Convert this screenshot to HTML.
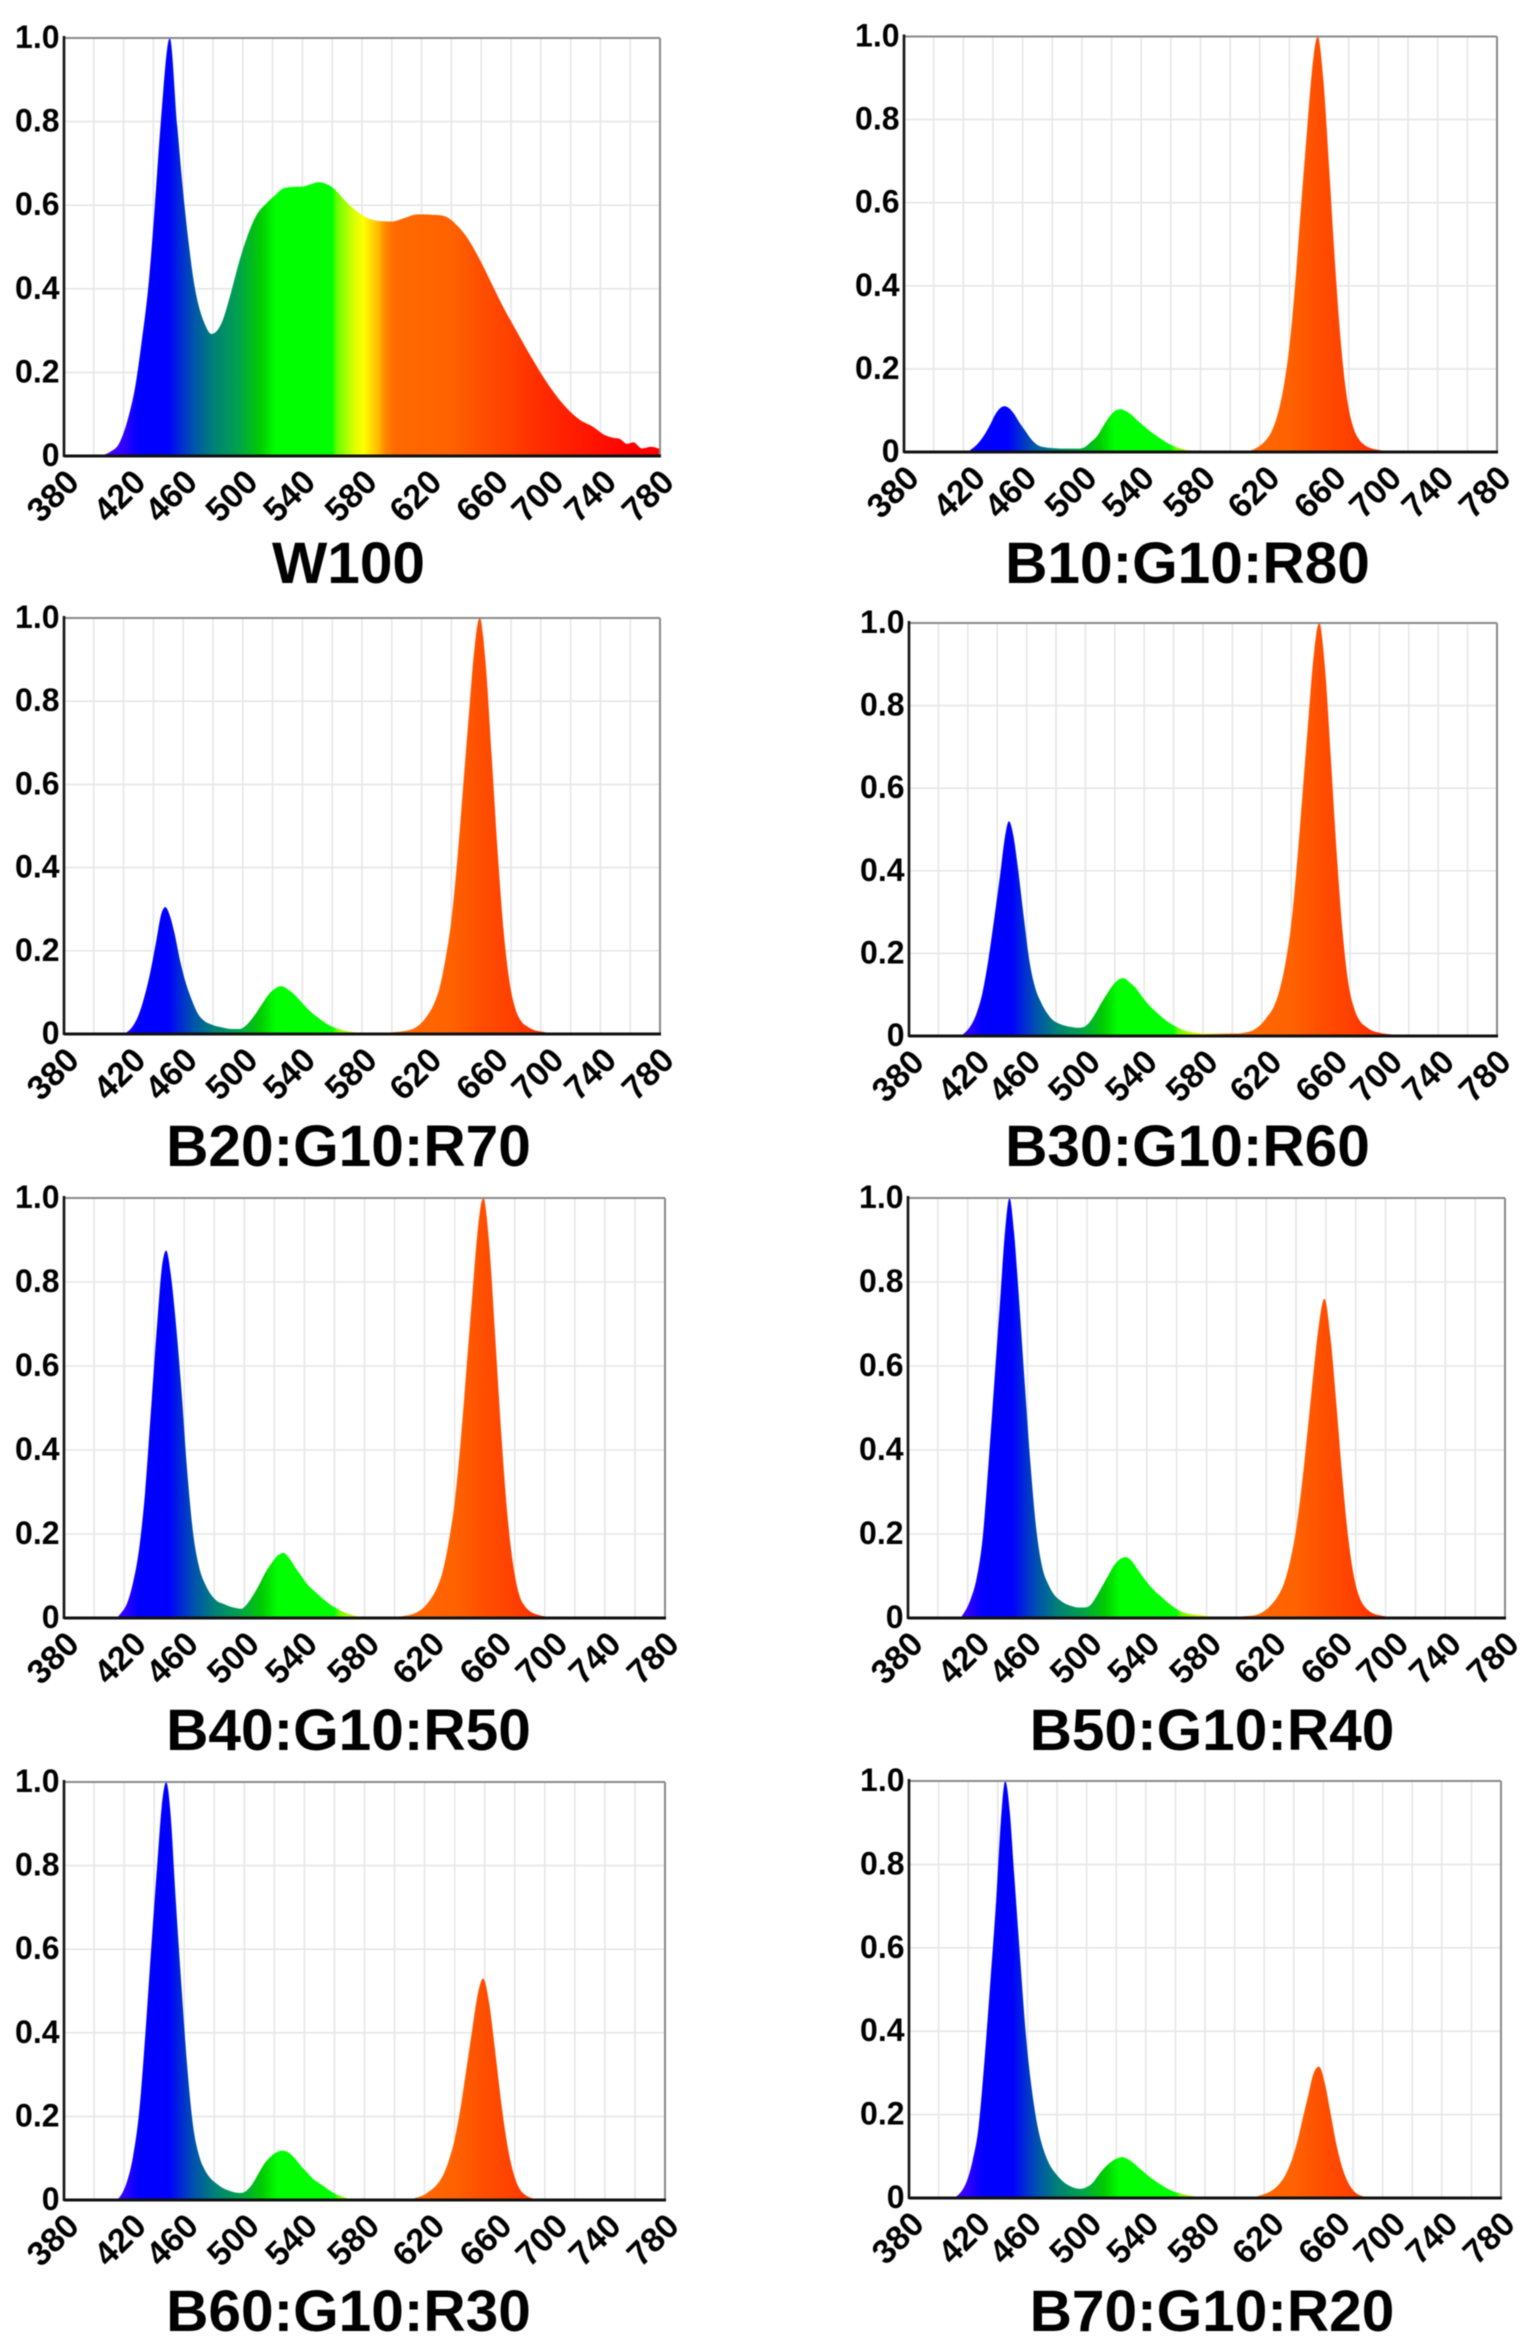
<!DOCTYPE html>
<html lang="en">
<head>
<meta charset="utf-8">
<title>LED spectra panels</title>
<style>
  html, body { margin: 0; padding: 0; background: #fff; }
  svg { display: block; filter: blur(0.55px); }
  text { font-family: "Liberation Sans", sans-serif; font-weight: bold; fill: #000; }
</style>
</head>
<body>
<svg id="figure" xmlns="http://www.w3.org/2000/svg" width="1532" height="2352" viewBox="0 0 1532 2352"></svg>
<script>
// ---------- shared axis data ----------
const xTicks = [380, 420, 460, 500, 540, 580, 620, 660, 700, 740, 780];
const xGrid = [400, 420, 440, 460, 480, 500, 520, 540, 560, 580, 600, 620, 640, 660, 680, 700, 720, 740, 760];
const yTicks = [0, 0.2, 0.4, 0.6, 0.8, 1.0];
const yTickLabels = ['0', '0.2', '0.4', '0.6', '0.8', '1.0'];

// ---------- wavelength samples (nm) ----------
const wavelengthsWhite = [380,400,403,411,417,423,428,432,437,441,445,451,456,460,464,467,470,474,479,486,492,498,503,509,516,522,527,531,541,551,560,570,579,588,600,609,617,627,636,644,651,659,666,675,684,693,705,717,726,735,743,748,753,758,762,768,774,780];
const wavelengthsLED = [380,410,414,418,422,426,430,434,438,442,445,448,451,454,458,462,466,470,474,478,482,486,490,494,498,502,506,510,514,518,522,526,530,534,538,542,546,550,554,558,562,566,570,576,584,592,600,608,614,620,624,628,632,636,640,644,648,652,655,659,663,667,671,675,679,683,687,691,695,700,708,720,780];
const wavelengthsB70 = [380,407,411,415,419,423,427,431,435,439,442,445,448,451,455,459,463,467,471,475,480,484,488,492,496,500,504,508,512,516,520,524,528,532,536,540,544,548,552,556,560,564,568,574,582,590,598,606,612,618,622,626,630,634,638,642,646,650,653,657,661,665,669,673,677,681,685,689,693,698,706,720,780];

// ---------- series values (relative intensity) ----------
const seriesW100 = [0,0,0.001,0.01,0.03,0.09,0.17,0.27,0.42,0.6,0.8,1,0.79,0.63,0.5,0.42,0.365,0.32,0.292,0.32,0.39,0.47,0.525,0.575,0.605,0.625,0.64,0.643,0.645,0.655,0.643,0.606,0.579,0.564,0.561,0.57,0.578,0.577,0.573,0.551,0.52,0.47,0.42,0.355,0.297,0.24,0.171,0.116,0.087,0.07,0.05,0.044,0.041,0.029,0.033,0.018,0.022,0.017];
const seriesB10 = [0,0,0,0,0,0.008,0.021,0.04,0.065,0.093,0.106,0.11,0.105,0.093,0.07,0.05,0.03,0.017,0.012,0.01,0.009,0.008,0.008,0.008,0.008,0.012,0.024,0.037,0.06,0.082,0.098,0.103,0.098,0.088,0.074,0.062,0.05,0.04,0.03,0.021,0.014,0.009,0.005,0.003,0.001,0.001,0.001,0.002,0.004,0.015,0.028,0.05,0.09,0.155,0.255,0.41,0.6,0.78,0.91,1,0.89,0.67,0.44,0.25,0.125,0.06,0.03,0.016,0.009,0.005,0.002,0.001,0];
const seriesB20 = [0,0,0,0,0.004,0.018,0.045,0.09,0.15,0.225,0.285,0.305,0.285,0.245,0.175,0.12,0.08,0.048,0.032,0.024,0.019,0.016,0.013,0.012,0.012,0.02,0.036,0.056,0.078,0.098,0.11,0.115,0.108,0.097,0.082,0.066,0.052,0.041,0.03,0.021,0.015,0.01,0.007,0.004,0.003,0.002,0.004,0.007,0.012,0.027,0.045,0.07,0.11,0.18,0.275,0.42,0.6,0.78,0.91,1,0.89,0.67,0.44,0.25,0.125,0.06,0.03,0.018,0.01,0.006,0.002,0.001,0];
const seriesB30 = [0,0,0,0.008,0.025,0.055,0.105,0.185,0.285,0.39,0.475,0.52,0.485,0.41,0.29,0.18,0.115,0.08,0.055,0.038,0.03,0.025,0.022,0.02,0.021,0.03,0.05,0.075,0.098,0.12,0.135,0.14,0.13,0.117,0.098,0.08,0.065,0.052,0.04,0.03,0.022,0.015,0.011,0.008,0.006,0.006,0.006,0.008,0.014,0.03,0.048,0.07,0.11,0.175,0.27,0.42,0.6,0.78,0.91,1,0.89,0.67,0.44,0.25,0.125,0.065,0.035,0.022,0.013,0.008,0.004,0.002,0];
const seriesB40 = [0,0,0,0.012,0.035,0.085,0.165,0.3,0.5,0.7,0.83,0.875,0.82,0.72,0.55,0.35,0.2,0.12,0.08,0.055,0.04,0.034,0.028,0.024,0.022,0.034,0.055,0.08,0.108,0.13,0.148,0.155,0.142,0.12,0.1,0.08,0.066,0.053,0.041,0.03,0.022,0.014,0.009,0.004,0.003,0.002,0.003,0.006,0.012,0.027,0.045,0.07,0.11,0.18,0.275,0.42,0.6,0.78,0.91,1,0.89,0.67,0.44,0.25,0.125,0.055,0.027,0.014,0.008,0.004,0.001,0,0];
const seriesB50 = [0,0,0,0.015,0.045,0.095,0.19,0.37,0.57,0.77,0.92,1,0.92,0.78,0.57,0.37,0.21,0.12,0.08,0.055,0.042,0.033,0.028,0.025,0.025,0.03,0.05,0.075,0.1,0.125,0.14,0.145,0.135,0.115,0.095,0.077,0.062,0.05,0.037,0.026,0.017,0.012,0.009,0.007,0.003,0.002,0.003,0.005,0.008,0.02,0.034,0.053,0.083,0.135,0.21,0.32,0.455,0.595,0.69,0.76,0.67,0.51,0.335,0.19,0.095,0.045,0.023,0.012,0.007,0.004,0.002,0.001,0];
const seriesB60 = [0,0,0,0.012,0.045,0.105,0.21,0.39,0.6,0.8,0.94,1,0.92,0.74,0.52,0.32,0.175,0.105,0.07,0.05,0.038,0.028,0.022,0.018,0.017,0.024,0.042,0.067,0.09,0.105,0.115,0.118,0.112,0.098,0.08,0.065,0.05,0.04,0.03,0.02,0.012,0.007,0.003,0.001,0,0,0,0,0.005,0.013,0.023,0.036,0.057,0.093,0.145,0.222,0.318,0.415,0.485,0.53,0.47,0.355,0.233,0.133,0.066,0.028,0.012,0.005,0.002,0.001,0,0,0];
const seriesB70 = [0,0,0.002,0.014,0.04,0.09,0.17,0.33,0.52,0.72,0.9,1,0.93,0.78,0.58,0.39,0.26,0.17,0.115,0.08,0.055,0.04,0.03,0.024,0.022,0.026,0.036,0.055,0.072,0.085,0.094,0.098,0.093,0.083,0.07,0.058,0.047,0.037,0.028,0.02,0.014,0.01,0.007,0.004,0.002,0.001,0.001,0.001,0.002,0.007,0.012,0.02,0.033,0.053,0.085,0.13,0.19,0.25,0.295,0.315,0.275,0.2,0.125,0.07,0.035,0.015,0.006,0.003,0.002,0.001,0,0,0];

const panelTitles = ['W100', 'B10:G10:R80', 'B20:G10:R70', 'B30:G10:R60', 'B40:G10:R50', 'B50:G10:R40', 'B60:G10:R30', 'B70:G10:R20'];
const panelWavelengths = [wavelengthsWhite, wavelengthsLED, wavelengthsLED, wavelengthsLED, wavelengthsLED, wavelengthsLED, wavelengthsLED, wavelengthsB70];
const panelSeries = [seriesW100, seriesB10, seriesB20, seriesB30, seriesB40, seriesB50, seriesB60, seriesB70];

// ---------- layout (plot rectangles, title anchors) ----------
const layout = [
  { l: 64,  r: 660,  t: 38,   b: 456,  tx: 348.5,  ty: 583 },
  { l: 904, r: 1497, t: 36.5, b: 452,  tx: 1187.5, ty: 583 },
  { l: 64,  r: 660,  t: 618,  b: 1034, tx: 348.5,  ty: 1166 },
  { l: 909, r: 1497, t: 623,  b: 1036, tx: 1187.5, ty: 1166 },
  { l: 64,  r: 665,  t: 1198, b: 1618, tx: 348.5,  ty: 1750 },
  { l: 908, r: 1505, t: 1198, b: 1618, tx: 1212,   ty: 1750 },
  { l: 64,  r: 665,  t: 1782, b: 2200, tx: 348.5,  ty: 2331 },
  { l: 909, r: 1501, t: 1781, b: 2198, tx: 1212,   ty: 2331 }
];
const labelNudge = [0, 7, -1, 0, -2, 0, 5, 12, 8, 1, -1];

// ---------- wavelength colour ramp ----------
const rampNm = [380, 405, 420, 430, 450, 456, 466, 480, 496, 512, 522, 560, 563, 575, 581, 590, 596, 602, 640, 660, 680, 700, 740, 760, 780];
const rampColor = ['#6000ff','#5000ff','#3000ff','#0000ff','#0000ff','#0020e0','#0050b0','#008078','#00a050','#00cc00','#00ff00','#00ff00','#66ff00','#ddff00','#ffff00','#ffc000','#ff8400','#ff6a00','#ff6200','#ff4e00','#ff4000','#ff2c00','#ff1000','#ff0000','#ff0000'];

const NS = 'http://www.w3.org/2000/svg';
const svg = document.getElementById('figure');
const defs = document.createElementNS(NS, 'defs');
svg.appendChild(defs);

function mk(parent, tag, attrs) {
  const el = document.createElementNS(NS, tag);
  for (const k in attrs) el.setAttribute(k, attrs[k]);
  parent.appendChild(el);
  return el;
}
function xScale(box, nm) { return box.l + (nm - 380) / 400 * (box.r - box.l); }
function yScale(box, v) { return box.b - v * (box.b - box.t); }

// Smooth, overshoot-limited cubic area path through the samples.
function areaPath(box, wl, vals) {
  const n = wl.length;
  const px = wl.map(function (w) { return xScale(box, w); });
  const py = vals.map(function (v) { return yScale(box, v); });
  const d = [], h = [], m = [];
  for (let i = 0; i < n - 1; i++) {
    h.push(px[i + 1] - px[i]);
    d.push((py[i + 1] - py[i]) / h[i]);
  }
  m.push(d[0]);
  for (let i = 1; i < n - 1; i++) {
    if (d[i - 1] * d[i] <= 0) { m.push(0); continue; }
    const t = (h[i] * d[i - 1] + h[i - 1] * d[i]) / (h[i - 1] + h[i]);
    const lim = 3 * Math.min(Math.abs(d[i - 1]), Math.abs(d[i]));
    m.push(Math.sign(t) * Math.min(Math.abs(t), lim));
  }
  m.push(d[n - 2]);
  let p = 'M' + px[0].toFixed(2) + ' ' + box.b + ' L' + px[0].toFixed(2) + ' ' + py[0].toFixed(2);
  for (let i = 0; i < n - 1; i++) {
    const s = h[i] / 3;
    p += ' C' + (px[i] + s).toFixed(2) + ' ' + (py[i] + m[i] * s).toFixed(2) + ' ' +
         (px[i + 1] - s).toFixed(2) + ' ' + (py[i + 1] - m[i + 1] * s).toFixed(2) + ' ' +
         px[i + 1].toFixed(2) + ' ' + py[i + 1].toFixed(2);
  }
  return p + ' L' + px[n - 1].toFixed(2) + ' ' + box.b + ' Z';
}

panelTitles.forEach(function (title, idx) {
  const box = layout[idx];
  const g = mk(svg, 'g', {});
  
  

  // gradient
  const grad = mk(defs, 'linearGradient', {
    id: 'ramp' + idx, gradientUnits: 'userSpaceOnUse',
    x1: xScale(box, 380), x2: xScale(box, 780), y1: 0, y2: 0
  });
  rampNm.forEach(function (nm, i) {
    mk(grad, 'stop', { offset: ((nm - 380) / 400).toFixed(4), 'stop-color': rampColor[i] });
  });

  // grid
  xGrid.forEach(function (nm) {
    const ln = mk(g, 'line', { x1: xScale(box, nm), x2: xScale(box, nm), y1: box.t, y2: box.b, stroke: '#e6e6e6', 'stroke-width': 1.6 });
    
    
  });
  yTicks.forEach(function (v) {
    if (v === 0 || v === 1) return;
    const ln = mk(g, 'line', { x1: box.l, x2: box.r, y1: yScale(box, v), y2: yScale(box, v), stroke: '#e6e6e6', 'stroke-width': 1.6 });
    
    
  });

  // spectrum area
  const area = mk(g, 'path', { d: areaPath(box, panelWavelengths[idx], panelSeries[idx]), fill: 'url(#ramp' + idx + ')' });
  
  

  // frame
  const topEdge = mk(g, 'line', { x1: box.l, x2: box.r, y1: box.t, y2: box.t, stroke: '#8a8a8a', 'stroke-width': 2 });
  
  
  const rightEdge = mk(g, 'line', { x1: box.r, x2: box.r, y1: box.t, y2: box.b, stroke: '#8a8a8a', 'stroke-width': 2 });
  
  
  const yAxis = mk(g, 'line', { x1: box.l, x2: box.l, y1: box.t - 2, y2: box.b + 1, stroke: '#111', 'stroke-width': 2.6 });
  
  
  const xAxis = mk(g, 'line', { x1: box.l, x2: box.r + 1, y1: box.b, y2: box.b, stroke: '#111', 'stroke-width': 3 });
  
  

  // y tick labels
  yTicks.forEach(function (v, i) {
    const t = mk(g, 'text', { x: box.l - 4.5, y: yScale(box, v) + 10, 'text-anchor': 'end', 'font-size': 32 });
    t.textContent = yTickLabels[i];
    
    
  });

  // x tick labels
  xTicks.forEach(function (nm, i) {
    const px = xScale(box, nm) + 17 + labelNudge[i];
    const py = box.b + 28;
    const t = mk(g, 'text', { x: px, y: py, 'text-anchor': 'end', 'font-size': 34, transform: 'rotate(-45 ' + px + ' ' + py + ')' });
    t.textContent = String(nm);
    
    
  });

  // title
  const tt = mk(g, 'text', { x: box.tx, y: box.ty, 'text-anchor': 'middle', 'font-size': 58.6 });
  tt.textContent = title;
  
  
});
</script>
</body>
</html>
